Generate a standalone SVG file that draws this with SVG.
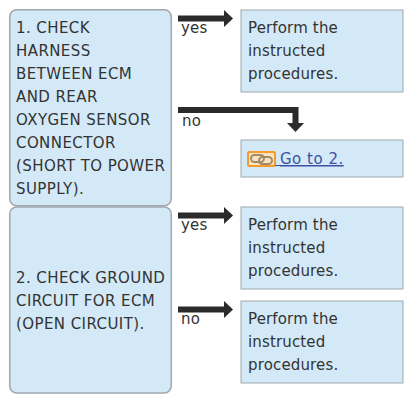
<svg xmlns="http://www.w3.org/2000/svg" width="413" height="404" viewBox="0 0 413 404">
<style>
text{font-family:"DejaVu Sans",Verdana,sans-serif;font-size:15px;fill:#333}
.u{letter-spacing:.42px}
.l{letter-spacing:.15px}
.s{fill:#d4e9f7;stroke:#a0a7ad;stroke-width:1.5}
.r{fill:#d4e9f7;stroke:#a0a7ad;stroke-width:1}
.c{fill:none;stroke:#2b2b2b;stroke-width:6}
.h{fill:#2b2b2b}
</style>
<rect width="413" height="404" fill="#fff"/>
<g id="connectors">
<path class="c" d="M178 18.500H225"/><path class="h" d="M224 10L233 18.500L224 27Z"/>
<path class="c" d="M178 110H295.500V124"/><path class="h" d="M287 123H304L295.500 132Z"/>
<path class="c" d="M178 215.500H225"/><path class="h" d="M224 207L233 215.500L224 224Z"/>
<path class="c" d="M178 309.500H225"/><path class="h" d="M224 301L233 309.500L224 318Z"/>
<text class="l" x="181" y="33">yes</text><text class="l" x="182" y="126">no</text>
<text class="l" x="181" y="230">yes</text><text class="l" x="181" y="324">no</text>
</g>
<g id="node1"><rect class="s" x="9.750" y="9.750" width="161.500" height="196" rx="7"/>
<g class="u"><text x="16" y="33">1. CHECK</text><text x="16" y="56">HARNESS</text><text x="16" y="79">BETWEEN ECM</text><text x="16" y="102">AND REAR</text><text x="16" y="125">OXYGEN SENSOR</text><text x="16" y="148">CONNECTOR</text><text x="16" y="171">(SHORT TO POWER</text><text x="16" y="194">SUPPLY).</text></g></g>
<g id="node2"><rect class="s" x="9.750" y="207" width="161.500" height="186" rx="7"/>
<g class="u"><text x="16" y="283">2. CHECK GROUND</text><text x="16" y="306">CIRCUIT FOR ECM</text><text x="16" y="329">(OPEN CIRCUIT).</text></g></g>
<g id="result1"><rect class="r" x="241" y="10" width="162" height="82"/><g class="l"><text x="248" y="33">Perform the</text><text x="248" y="56">instructed</text><text x="248" y="79">procedures.</text></g></g>
<g id="goto2"><rect class="r" x="241" y="140" width="162" height="37"/>
<rect x="248" y="152" width="27" height="14" rx="1.500" fill="#fbe3c0" stroke="#f59a2b" stroke-width="2"/>
<g fill="none" stroke="#a08a68" stroke-width="2"><rect x="251" y="155" width="13" height="7" rx="3.500"/><rect x="259" y="157" width="13" height="7" rx="3.500"/></g>
<text x="280" y="164" style="fill:#4050a5;text-decoration:underline;letter-spacing:.5px">Go to 2.</text>
<path d="M275 165.500H280" stroke="#4050a5" stroke-width="1"/></g>
<g id="result2"><rect class="r" x="241" y="207" width="162" height="82"/><g class="l"><text x="248" y="230">Perform the</text><text x="248" y="253">instructed</text><text x="248" y="276">procedures.</text></g></g>
<g id="result3"><rect class="r" x="241" y="301" width="162" height="82"/><g class="l"><text x="248" y="324">Perform the</text><text x="248" y="347">instructed</text><text x="248" y="370">procedures.</text></g></g>
</svg>
